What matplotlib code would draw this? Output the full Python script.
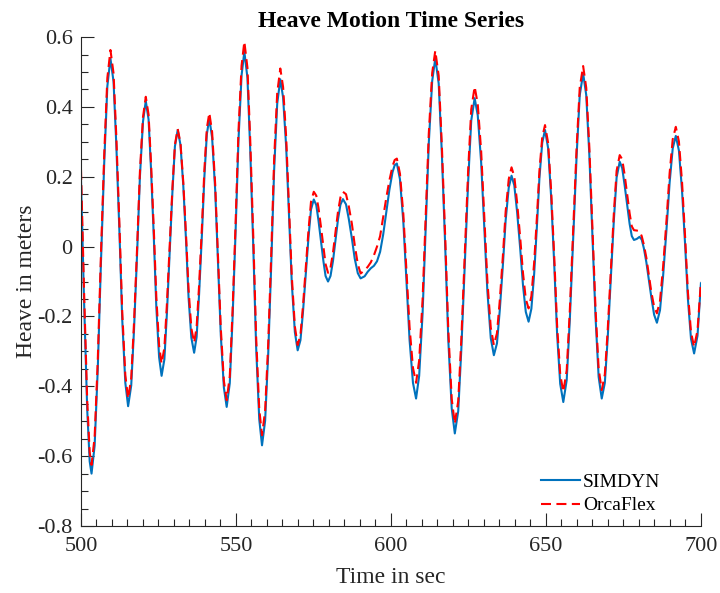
import matplotlib
matplotlib.use('Agg')
import matplotlib.pyplot as plt
from matplotlib.ticker import AutoMinorLocator, FuncFormatter

plt.rcParams['font.family'] = ['Liberation Serif', 'DejaVu Serif']
plt.rcParams['axes.unicode_minus'] = False

# values (peaks, troughs and points along the flanks)
time_s = [
    500.0, 501.0, 502.0, 502.8, 503.4, 504.4, 505.4, 506.4, 507.5, 508.5,
    509.5, 510.5, 511.4, 512.4, 513.3, 514.3, 515.2, 516.2, 517.1, 518.1,
    519.0, 520.0, 520.9, 521.8, 522.6, 523.5, 524.3, 525.2, 526.0, 526.9,
    527.7, 528.6, 529.5, 530.3, 531.2, 532.1, 533.0, 533.9, 534.7, 535.6,
    536.5, 537.3, 538.1, 539.0, 539.8, 540.6, 541.4, 542.3, 543.3, 544.2,
    545.1, 546.1, 547.0, 548.0, 548.9, 549.9, 550.8, 551.8, 552.7, 553.7,
    554.6, 555.6, 556.5, 557.5, 558.4, 559.4, 560.4, 561.4, 562.3, 563.3,
    564.3, 565.2, 566.2, 567.1, 568.0, 569.0, 569.9, 570.8, 571.6, 572.5,
    573.4, 574.2, 575.1, 575.9, 576.6, 577.4, 578.2, 578.9, 579.7, 580.5,
    581.3, 582.1, 582.9, 583.7, 584.5, 585.5, 586.4, 587.4, 588.3, 589.3,
    590.2, 591.5, 592.5, 593.5, 594.5, 595.5, 596.5, 597.5, 598.5, 599.5,
    600.5, 601.2, 601.9, 602.9, 604.0, 605.0, 606.0, 607.1, 608.1, 609.1,
    610.2, 611.2, 612.2, 613.3, 614.3, 615.4, 616.4, 617.5, 618.5, 619.6,
    620.6, 621.7, 622.7, 623.8, 624.9, 625.9, 627.0, 628.0, 629.1, 630.1,
    631.1, 632.2, 633.2, 634.2, 635.1, 636.1, 637.0, 638.0, 638.9, 639.8,
    640.7, 641.7, 642.6, 643.5, 644.4, 645.3, 646.2, 647.1, 647.9, 648.8,
    649.7, 650.7, 651.7, 652.7, 653.6, 654.6, 655.6, 656.7, 657.7, 658.8,
    659.9, 660.9, 662.0, 663.0, 664.0, 665.0, 666.0, 667.0, 668.0, 669.0,
    669.9, 670.9, 671.9, 672.8, 673.8, 674.6, 675.4, 676.2, 677.0, 677.7,
    678.4, 679.3, 680.2, 680.9, 681.6, 682.4, 683.2, 684.0, 684.9, 685.8,
    686.8, 687.8, 688.9, 689.9, 690.9, 691.9, 692.9, 693.9, 694.9, 695.8,
    696.8, 697.8, 698.9, 700.0,
]

heave_simdyn = [
    0.190, -0.160, -0.466, -0.615, -0.650, -0.570, -0.353, -0.056, 0.242, 0.459,
    0.539, 0.472, 0.290, 0.041, -0.208, -0.390, -0.457, -0.398, -0.239, -0.020,
    0.199, 0.358, 0.417, 0.364, 0.220, 0.024, -0.173, -0.317, -0.370, -0.323,
    -0.194, -0.018, 0.158, 0.287, 0.334, 0.291, 0.175, 0.015, -0.145, -0.261,
    -0.304, -0.259, -0.136, 0.032, 0.199, 0.322, 0.367, 0.312, 0.161, -0.046,
    -0.253, -0.404, -0.459, -0.391, -0.205, 0.050, 0.304, 0.490, 0.558, 0.483,
    0.276, -0.006, -0.287, -0.494, -0.569, -0.499, -0.307, -0.045, 0.217, 0.409,
    0.479, 0.427, 0.285, 0.091, -0.103, -0.245, -0.297, -0.268, -0.189, -0.081,
    0.027, 0.106, 0.135, 0.119, 0.076, 0.018, -0.041, -0.084, -0.100, -0.084,
    -0.041, 0.018, 0.077, 0.120, 0.136, 0.121, 0.079, 0.023, -0.034, -0.076,
    -0.091, -0.085, -0.072, -0.062, -0.055, -0.042, -0.015, 0.035, 0.100, 0.163,
    0.213, 0.233, 0.238, 0.193, 0.070, -0.099, -0.267, -0.390, -0.435, -0.370,
    -0.192, 0.052, 0.296, 0.474, 0.539, 0.467, 0.271, 0.002, -0.267, -0.463,
    -0.535, -0.471, -0.295, -0.055, 0.185, 0.361, 0.425, 0.376, 0.241, 0.057,
    -0.127, -0.262, -0.311, -0.277, -0.183, -0.054, 0.075, 0.169, 0.203, 0.175,
    0.099, -0.006, -0.111, -0.187, -0.215, -0.178, -0.078, 0.060, 0.197, 0.297,
    0.334, 0.282, 0.139, -0.056, -0.250, -0.393, -0.445, -0.382, -0.210, 0.026,
    0.261, 0.433, 0.496, 0.434, 0.263, 0.031, -0.202, -0.373, -0.435, -0.390,
    -0.266, -0.096, 0.074, 0.198, 0.243, 0.225, 0.175, 0.120, 0.065, 0.030,
    0.019, 0.022, 0.028, 0.020, -0.005, -0.045, -0.095, -0.145, -0.195, -0.218,
    -0.182, -0.084, 0.050, 0.183, 0.281, 0.317, 0.275, 0.161, 0.006, -0.150,
    -0.264, -0.306, -0.255, -0.105,
]

heave_orcaflex = [
    0.220, -0.132, -0.440, -0.589, -0.625, -0.545, -0.328, -0.031, 0.266, 0.483,
    0.563, 0.496, 0.314, 0.064, -0.186, -0.368, -0.435, -0.377, -0.219, -0.003,
    0.213, 0.371, 0.429, 0.378, 0.238, 0.047, -0.144, -0.284, -0.335, -0.290,
    -0.167, 0.001, 0.169, 0.292, 0.337, 0.296, 0.184, 0.031, -0.122, -0.234,
    -0.275, -0.231, -0.111, 0.054, 0.219, 0.339, 0.383, 0.328, 0.177, -0.029,
    -0.234, -0.385, -0.440, -0.371, -0.183, 0.074, 0.330, 0.518, 0.587, 0.512,
    0.305, 0.024, -0.258, -0.465, -0.540, -0.470, -0.278, -0.015, 0.248, 0.440,
    0.510, 0.457, 0.312, 0.114, -0.084, -0.229, -0.282, -0.253, -0.172, -0.063,
    0.047, 0.128, 0.157, 0.146, 0.112, 0.058, 0.000, -0.050, -0.075, -0.060,
    -0.017, 0.041, 0.099, 0.141, 0.157, 0.150, 0.115, 0.065, 0.005, -0.050,
    -0.077, -0.068, -0.058, -0.045, -0.025, 0.000, 0.030, 0.085, 0.140, 0.190,
    0.230, 0.248, 0.252, 0.209, 0.092, -0.069, -0.230, -0.347, -0.390, -0.326,
    -0.152, 0.086, 0.323, 0.497, 0.561, 0.489, 0.294, 0.027, -0.240, -0.436,
    -0.507, -0.442, -0.266, -0.025, 0.217, 0.393, 0.458, 0.408, 0.273, 0.088,
    -0.097, -0.232, -0.282, -0.248, -0.155, -0.028, 0.100, 0.193, 0.227, 0.200,
    0.126, 0.025, -0.076, -0.150, -0.177, -0.142, -0.046, 0.086, 0.217, 0.313,
    0.348, 0.297, 0.157, -0.034, -0.225, -0.365, -0.416, -0.354, -0.183, 0.051,
    0.284, 0.455, 0.517, 0.455, 0.285, 0.053, -0.179, -0.349, -0.411, -0.366,
    -0.243, -0.075, 0.094, 0.217, 0.262, 0.250, 0.205, 0.150, 0.095, 0.058,
    0.047, 0.046, 0.044, 0.030, 0.005, -0.032, -0.080, -0.130, -0.172, -0.191,
    -0.155, -0.058, 0.076, 0.210, 0.307, 0.343, 0.301, 0.186, 0.028, -0.130,
    -0.245, -0.287, -0.240, -0.100,
]

axis_col = '#262626'

fig = plt.figure(figsize=(7.2, 5.93), dpi=100)
ax = fig.add_axes([0.1125, 0.113, 0.861, 0.8245])

ax.plot(time_s, heave_simdyn, color='#0072BD', lw=1.5, label='SIMDYN')
ax.plot(time_s, heave_orcaflex, color='#FF0000', lw=1.5, dashes=(4.8, 2.6), label='OrcaFlex')

ax.set_xlim(500, 700)
ax.set_ylim(-0.8, 0.6)
ax.set_xticks([500, 550, 600, 650, 700])
ax.set_yticks([-0.8, -0.6, -0.4, -0.2, 0, 0.2, 0.4, 0.6])
ax.yaxis.set_major_formatter(FuncFormatter(lambda v, p: f'{round(v, 2):g}' if abs(v) > 1e-9 else '0'))
ax.xaxis.set_minor_locator(AutoMinorLocator(10))
ax.yaxis.set_minor_locator(AutoMinorLocator(4))

for side in ['top', 'right']:
    ax.spines[side].set_visible(False)
for side in ['bottom', 'left']:
    ax.spines[side].set_color(axis_col)
    ax.spines[side].set_linewidth(0.8)

ax.tick_params(which='both', direction='in', colors=axis_col, width=0.8,
               labelsize=16, labelcolor=axis_col, pad=6)
ax.tick_params(axis='x', which='major', pad=8)
ax.tick_params(which='major', length=9.5)
ax.tick_params(which='minor', length=4.8)

ax.set_xlabel('Time in sec', fontsize=17, color=axis_col, labelpad=8)
ax.set_ylabel('Heave in meters', fontsize=17, color=axis_col, labelpad=0)
ax.set_title('Heave Motion Time Series', fontsize=17, fontweight='bold', pad=7)

ax.legend(loc='lower right', bbox_to_anchor=(0.963, -0.012), frameon=False,
          fontsize=14, handlelength=2.0, handletextpad=0.15, labelspacing=0.3)

fig.savefig('out.png', dpi=100)
